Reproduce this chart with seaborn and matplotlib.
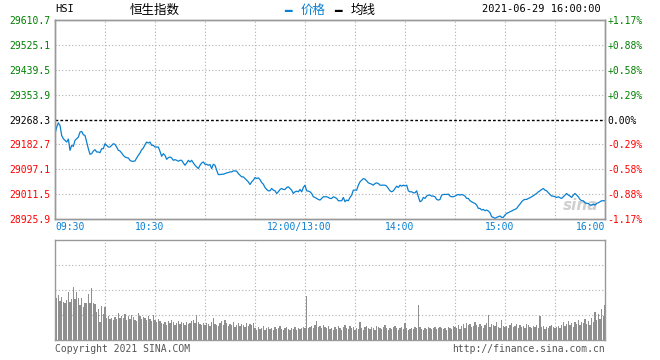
import numpy as np
import pandas as pd
import matplotlib
matplotlib.use("Agg")
import matplotlib.pyplot as plt
from matplotlib import transforms
import seaborn as sns

# ---------------- data ----------------
prev_close = 29268.3
price_levels = [28925.9, 29011.5, 29097.1, 29182.7, 29268.3, 29353.9, 29439.5, 29525.1, 29610.7]
pct_labels = ["-1.17%", "-0.88%", "-0.58%", "-0.29%", "0.00%", "+0.29%", "+0.58%", "+0.88%", "+1.17%"]
time_labels = ["09:30", "10:30", "12:00/13:00", "14:00", "15:00", "16:00"]
time_label_minutes = [0, 60, 150, 210, 270, 330]

price = [
    29219.2, 29242.0, 29256.9, 29247.8, 29213.5, 29202.1, 29196.4, 29190.7, 29201.0, 29162.2,
    29179.3, 29175.9, 29196.4, 29202.1, 29207.8, 29224.9, 29227.2, 29215.8, 29213.5, 29190.7,
    29167.9, 29148.5, 29150.7, 29159.9, 29164.4, 29156.5, 29156.5, 29154.2, 29167.9, 29167.9,
    29185.0, 29179.3, 29173.6, 29173.6, 29179.3, 29185.0, 29182.7, 29173.6, 29162.2, 29159.9,
    29153.0, 29145.0, 29139.3, 29137.0, 29135.9, 29127.9, 29124.5, 29124.5, 29125.6, 29135.9,
    29145.0, 29153.0, 29164.4, 29170.1, 29181.6, 29190.7, 29187.3, 29190.7, 29179.3, 29179.3,
    29173.6, 29173.6, 29173.6, 29158.7, 29141.6, 29150.7, 29145.0, 29131.3, 29137.0, 29139.3,
    29135.9, 29127.9, 29130.2, 29127.9, 29124.5, 29127.9, 29127.9, 29118.8, 29110.8, 29118.8,
    29127.9, 29122.2, 29127.9, 29118.8, 29110.8, 29105.1, 29099.4, 29110.8, 29118.8, 29122.2,
    29114.2, 29114.2, 29110.8, 29113.1, 29099.4, 29114.2, 29110.8, 29093.7, 29078.8, 29078.8,
    29080.0, 29080.0, 29082.3, 29084.5, 29085.7, 29088.0, 29088.0, 29091.4, 29091.4, 29090.3,
    29082.3, 29076.6, 29070.9, 29070.9, 29065.1, 29059.4, 29053.7, 29044.6, 29053.7, 29059.4,
    29068.6, 29065.1, 29067.4, 29061.7, 29051.5, 29045.7, 29034.3, 29027.5, 29022.9, 29022.9,
    29030.9, 29025.2, 29022.9, 29013.8, 29019.5, 29027.5, 29030.9, 29027.5, 29027.5, 29034.3,
    29036.6, 29030.9, 29025.2, 29013.8, 29019.5, 29021.8, 29019.5, 29027.5, 29019.5, 29034.3,
    29042.3, 29022.9, 29021.8, 29019.5, 29013.8, 29002.4, 29000.1, 28996.7, 28993.2, 28991.0,
    28996.7, 29002.4, 29002.4, 29002.4, 29000.1, 28996.7, 28996.7, 29002.4, 29000.1, 28996.7,
    28988.7, 28988.7, 28988.7, 29000.1, 28985.3, 28991.0, 28988.7, 29000.1, 29008.1, 29025.2,
    29025.2, 29025.2, 29042.3, 29053.7, 29059.4, 29065.1, 29062.9, 29057.2, 29050.3, 29048.0,
    29045.7, 29042.3, 29048.0, 29050.3, 29048.0, 29042.3, 29042.3, 29042.3, 29042.3, 29038.9,
    29030.9, 29022.9, 29019.5, 29022.9, 29030.9, 29038.9, 29034.3, 29042.3, 29038.9, 29042.3,
    29040.0, 29042.3, 29022.9, 29019.5, 29019.5, 29016.1, 29016.1, 29022.9, 29002.4, 28985.3,
    28988.7, 29000.1, 28996.7, 29004.7, 29008.1, 29008.1, 29004.7, 29004.7, 29002.4, 28993.2,
    28991.0, 28993.2, 29008.1, 29010.4, 29010.4, 29010.4, 29011.5, 29004.7, 29002.4, 29002.4,
    29004.7, 29008.1, 29010.4, 29008.1, 29010.4, 29008.1, 29004.7, 28996.7, 28996.7, 28988.7,
    28985.3, 28981.8, 28979.5, 28973.8, 28962.4, 28962.4, 28956.7, 28959.0, 28954.4, 28956.7,
    28953.3, 28947.6, 28933.9, 28931.6, 28928.2, 28931.6, 28933.9, 28936.2, 28931.6, 28931.6,
    28939.6, 28945.3, 28947.6, 28951.0, 28953.3, 28956.7, 28959.0, 28962.4, 28970.4, 28977.3,
    28985.3, 28991.0, 28993.2, 28993.2, 28996.7, 28999.0, 29002.4, 29005.8, 29010.4, 29013.8,
    29019.5, 29022.9, 29027.5, 29030.9, 29025.2, 29022.9, 29016.1, 29010.4, 29004.7, 29004.7,
    29002.4, 29000.1, 29002.4, 28999.0, 28996.7, 29002.4, 29008.1, 29013.8, 29008.1, 29004.7,
    29000.1, 29008.1, 29013.8, 29008.1, 29002.4, 28993.2, 28988.7, 28988.7, 28981.8, 28979.5,
    28979.5, 28973.8, 28973.8, 28977.3, 28973.8, 28979.5, 28981.8, 28985.3, 28988.7, 28988.7,
    28988.7,
]

volume = [
    45, 42, 45, 39, 43, 38, 37, 40, 48, 38, 41, 53, 41, 48, 42, 35, 42, 33, 37, 37,
    46, 37, 52, 37, 36, 28, 31, 18, 34, 26,
    33, 22, 24, 21, 22, 20, 23, 21, 27, 22, 24, 22, 26, 20, 24, 21, 25, 23, 20, 19,
    27, 24, 21, 23, 22, 20, 24, 21, 19, 25,
    20, 18, 21, 19, 17, 16, 18, 15, 19, 17, 20, 18, 15, 17, 19, 16, 18, 17, 15, 18,
    16, 17, 19, 20, 17, 25, 18, 16, 15, 17,
    15, 17, 16, 14, 18, 22, 16, 15, 14, 17, 19, 15, 20, 17, 14, 16, 15, 18, 13, 15,
    17, 14, 16, 15, 13, 17, 14, 16, 15, 17,
    12, 10, 13, 11, 12, 14, 10, 12, 13, 11, 12, 10, 13, 11, 12, 14, 11, 10, 12, 13,
    11, 10, 12, 11, 13, 10, 12, 11, 12, 13, 12,
    44,
    12, 13, 14, 12, 15, 19, 13, 14, 12, 15, 13, 12, 14,
    11, 12, 10, 13, 11, 14, 12, 10, 13, 15, 12, 11, 14, 12, 13, 10, 12, 11, 18, 12,
    10, 13, 14, 12, 11, 13, 12, 10, 14, 13, 12, 11, 13, 15, 12, 10,
    12, 11, 13, 14, 12, 10, 12, 13, 11, 17, 12, 10, 11, 12, 11, 13, 12, 35, 13, 11,
    10, 12, 11, 13, 12, 11, 12, 13, 11, 12, 13, 12, 11, 12, 10, 13, 12, 11, 14,
    13, 12, 15, 11, 14, 16, 12, 17, 15, 16, 13, 14, 18, 15, 13, 16, 14, 12, 15, 17,
    25, 13, 16, 15, 14, 18, 13, 12, 20, 14, 13,
    14, 12, 15, 17, 13, 14, 16, 12, 15, 13, 14, 12, 16, 15, 13, 12, 14, 13, 15, 12,
    24, 13, 14, 11, 13, 12, 14, 15, 13, 12,
    13, 14, 12, 15, 18, 14, 16, 19, 15, 17, 13, 18, 16, 20, 15, 18, 17, 21, 16, 19,
    15, 22, 18, 28, 20, 26, 21, 31, 24, 35,
]

minute_idx = np.arange(len(price))
df = pd.DataFrame({"minute": minute_idx, "price": price, "volume": volume})

# ---------------- style ----------------
sns.set_style("white")
plt.rcParams["font.family"] = ["DejaVu Sans Mono", "Noto Sans CJK SC"]

BLUE = "#0a80d2"
GRAY = "#999999"
BARC = "#8f8f8f"
GRID = "#b0b0b0"
GREEN = "#008000"
RED = "#ff0000"

W, H = 660, 360
fig = plt.figure(figsize=(W / 100, H / 100), dpi=100)


def rect(x0, y0, x1, y1):
    return [x0 / W, 1 - y1 / H, (x1 - x0) / W, (y1 - y0) / H]


ax = fig.add_axes(rect(55, 20, 605, 219))
axv = fig.add_axes(rect(55, 240, 605, 340))

dot = (0, (1, 2))

# ---------- price panel ----------
for m in range(30, 330, 30):
    ax.axvline(m, color=GRID, lw=0.8, ls=dot, zorder=1)
for lv in price_levels[1:-1]:
    if lv != prev_close:
        ax.axhline(lv, color=GRID, lw=0.8, ls=dot, zorder=1)
ax.axhline(prev_close, color="black", lw=1.0, ls=(0, (2, 1.5)), zorder=2)

ax.text(0.955, 0.07, "sina", transform=ax.transAxes, fontsize=11,
        fontstyle="italic", fontweight="bold", color="#cfcfcf",
        family="DejaVu Sans", ha="center", va="center", zorder=1.5)

sns.lineplot(data=df, x="minute", y="price", ax=ax, color=BLUE,
             linewidth=0.9, estimator=None, zorder=3)
ax.set_xlim(0, 330)
ax.set_ylim(price_levels[0], price_levels[-1])
ax.set_xlabel("")
ax.set_ylabel("")
ax.set_xticks([])
ax.set_yticks(price_levels)
ax.set_yticklabels([f"{v:.1f}" for v in price_levels])
ax.tick_params(axis="y", length=0, pad=3, labelsize=7)


def level_color(v):
    if v > prev_close:
        return GREEN
    if v < prev_close:
        return RED
    return "black"


for lab, v in zip(ax.get_yticklabels(), price_levels):
    lab.set_color(level_color(v))

ax2 = ax.twinx()
ax2.set_ylim(price_levels[0], price_levels[-1])
ax2.set_yticks(price_levels)
ax2.set_yticklabels(pct_labels)
ax2.tick_params(axis="y", length=0, pad=2, labelsize=7)
for lab, v in zip(ax2.get_yticklabels(), price_levels):
    lab.set_color(level_color(v))

for a in (ax, ax2):
    for s in a.spines.values():
        s.set_color(GRAY)
        s.set_linewidth(1.0)

# time labels between panels
for lab, m in zip(time_labels, time_label_minutes):
    if m == 0:
        ha, dx = "left", 0
    elif m == 330:
        ha, dx = "right", 0
    else:
        ha, dx = "center", -5.5
    tr = transforms.offset_copy(ax.get_xaxis_transform(), fig=fig,
                                x=dx / 100, y=-8 / 100, units="inches")
    ax.text(m, 0, lab, transform=tr, ha=ha, va="center", color=BLUE, fontsize=7)

# ---------- volume panel ----------
for m in range(30, 330, 30):
    axv.axvline(m, color=GRID, lw=0.8, ls=dot, zorder=0)
for lv in (25, 50, 75):
    axv.axhline(lv, color=GRID, lw=0.8, ls=dot, zorder=0)

sns.barplot(data=df, x="minute", y="volume", ax=axv, native_scale=True,
            color=BARC, saturation=1, width=0.72, errorbar=None,
            linewidth=0, zorder=2)
axv.set_xlim(0, 330)
axv.set_ylim(0, 100)
axv.set_xlabel("")
axv.set_ylabel("")
axv.set_xticks([])
axv.set_yticks([])
for s in axv.spines.values():
    s.set_color(GRAY)
    s.set_linewidth(1.0)

# ---------- header / footer ----------
def ftext(x, y, s, **kw):
    fig.text(x / W, 1 - y / H, s, **kw)


ftext(55, 9, "HSI", fontsize=7.5, color="black", va="center", ha="left")
ftext(130, 10, "恒生指数", fontsize=9, color="black", va="center", ha="left",
      family=["Noto Sans CJK SC", "DejaVu Sans"])
ftext(284, 11, "\u2501", fontsize=9, color=BLUE, va="center", ha="left",
      family=["DejaVu Sans"])
ftext(301, 10, "价格", fontsize=9, color=BLUE, va="center", ha="left",
      family=["Noto Sans CJK SC", "DejaVu Sans"])
ftext(334, 11, "\u2501", fontsize=9, color="black", va="center", ha="left",
      family=["DejaVu Sans"])
ftext(351, 10, "均线", fontsize=9, color="black", va="center", ha="left",
      family=["Noto Sans CJK SC", "DejaVu Sans"])
ftext(601, 9, "2021-06-29 16:00:00", fontsize=7.5, color="black",
      va="center", ha="right")

ftext(55, 349, "Copyright 2021 SINA.COM", fontsize=7, color="#555555",
      va="center", ha="left")
ftext(605, 349, "http://finance.sina.com.cn", fontsize=7, color="#555555",
      va="center", ha="right")

fig.savefig("out.png", dpi=100)
